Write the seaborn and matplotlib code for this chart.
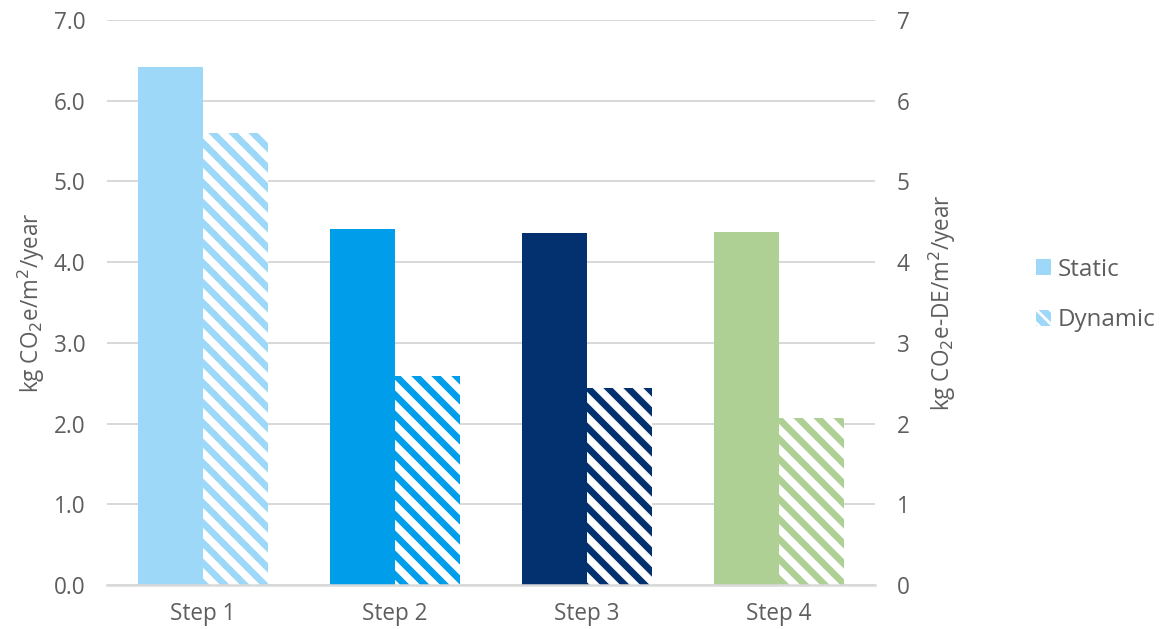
import matplotlib
matplotlib.use("Agg")
import matplotlib.pyplot as plt
import matplotlib.patches as mpatches
import seaborn as sns
import pandas as pd

steps = ["Step 1", "Step 2", "Step 3", "Step 4"]
static_vals = [6.42, 4.41, 4.36, 4.37]
dynamic_vals = [5.60, 2.59, 2.44, 2.07]
step_colors = ["#9DD8F8", "#009DEB", "#03306E", "#AED094"]
left_ticks = [0, 1, 2, 3, 4, 5, 6, 7]

sns.set_theme(style="white")
plt.rcParams["font.family"] = ["Open Sans", "DejaVu Sans"]
plt.rcParams["hatch.linewidth"] = 4.0

df = pd.DataFrame({
    "step": steps * 2,
    "type": ["Static"] * 4 + ["Dynamic"] * 4,
    "value": static_vals + dynamic_vals,
})

DPI = 120
fig = plt.figure(figsize=(1167 / DPI, 629 / DPI), dpi=DPI)
ax = fig.add_axes([107 / 1167, 1 - 585 / 629, (875 - 107) / 1167, (585 - 20) / 629])

sns.barplot(data=df, x="step", y="value", hue="type", order=steps,
            hue_order=["Static", "Dynamic"], width=0.68, gap=0,
            errorbar=None, ax=ax, legend=False)

for i, p in enumerate(ax.containers[0].patches):
    p.set_facecolor(step_colors[i])
    p.set_edgecolor("none")
    p.set_linewidth(0)
for i, p in enumerate(ax.containers[1].patches):
    p.set_facecolor("white")
    p.set_edgecolor(step_colors[i])
    p.set_hatch("\\\\")
    p.set_linewidth(0)

text_color = "#5E5E5E"
fs = 13.5
ax.set_xlim(-0.5, 3.5)
ax.set_ylim(0, 7)
ax.set_yticks(left_ticks)
ax.set_yticklabels([f"{t:.1f}" for t in left_ticks])
ax.yaxis.grid(True, color="#D9D9D9", linewidth=1.2)
ax.set_axisbelow(True)
for s in ["top", "left", "right"]:
    ax.spines[s].set_visible(False)
ax.spines["bottom"].set_color("#D9D9D9")
ax.spines["bottom"].set_linewidth(1.5)
ax.tick_params(axis="both", length=0, labelsize=fs, labelcolor=text_color)
ax.tick_params(axis="y", pad=13)
ax.tick_params(axis="x", pad=10)
ax.set_xlabel("")
ax.set_ylabel("kg CO$_2$e/m$^2$/year", fontsize=fs, color=text_color, labelpad=4)

ax2 = ax.twinx()
ax2.set_ylim(0, 7)
ax2.set_yticks(left_ticks)
ax2.set_yticklabels([str(t) for t in left_ticks])
for s in ["top", "left", "right", "bottom"]:
    ax2.spines[s].set_visible(False)
ax2.tick_params(axis="y", length=0, labelsize=fs, labelcolor=text_color, pad=13)
ax2.set_ylabel("kg CO$_2$e-DE/m$^2$/year", fontsize=fs, color=text_color, labelpad=10)
ax2.grid(False)

h1 = mpatches.Patch(facecolor=step_colors[0], edgecolor="none", label="Static")
h2 = mpatches.Patch(facecolor="white", edgecolor=step_colors[0], hatch="\\\\\\", linewidth=0, label="Dynamic")
fig.legend(handles=[h1, h2], loc="center left", bbox_to_anchor=(1014 / 1167, 1 - 295 / 629),
           frameon=False, fontsize=14.5, handlelength=0.65, handleheight=0.65,
           handletextpad=0.25, labelspacing=1.1, labelcolor=text_color)

fig.savefig("out.png", dpi=DPI)
